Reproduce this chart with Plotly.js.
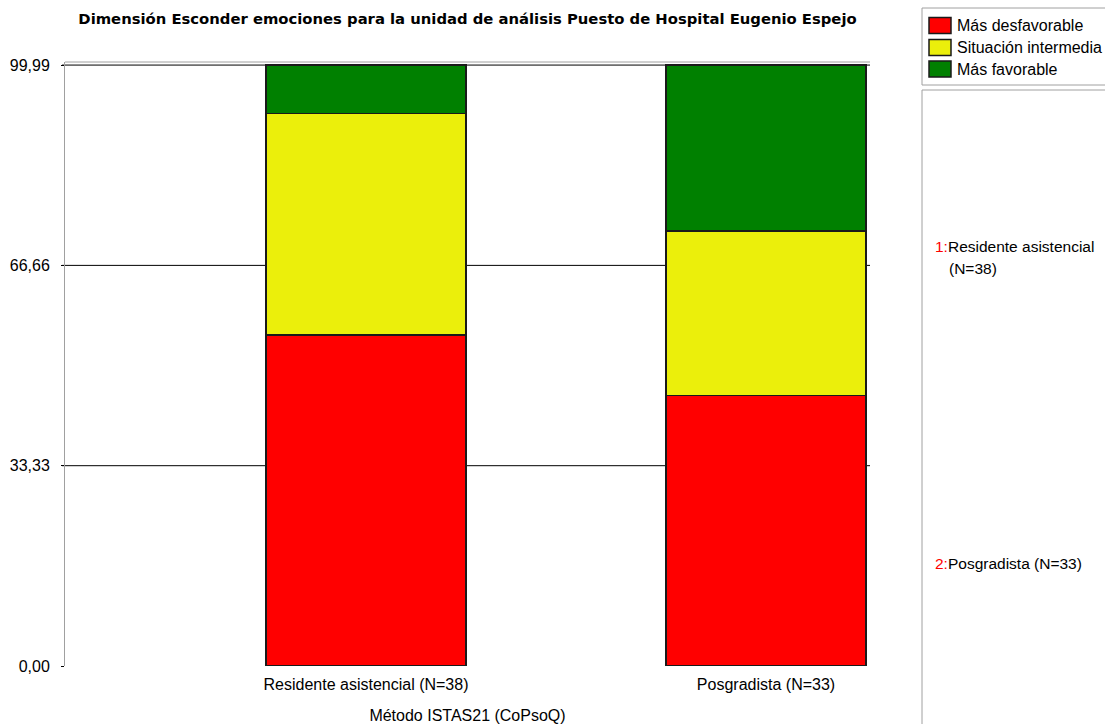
<!DOCTYPE html>
<html>
<head>
<meta charset="utf-8">
<script src="https://cdn.plot.ly/plotly-3.0.1.min.js"></script>
<style>
  html, body { margin: 0; padding: 0; background: #ffffff; }
  #chart { width: 1105px; height: 724px; }
</style>
</head>
<body>
<div id="chart"></div>
<script>
// Categories (groups of respondents) and stacked series, in percent
const categories = ['Residente asistencial (N=38)', 'Posgradista (N=33)'];
const seriesNames = ['Más desfavorable', 'Situación intermedia', 'Más favorable'];
const masDesfavorable = [55.1, 45.0];
const situacionIntermedia = [36.8, 27.4];
const masFavorable = [8.1, 27.6];
const seriesColors = ['#ff0000', '#ebef0b', '#008000'];

// Y axis ticks
const yTickVals = [0, 33.33, 66.66, 99.99];
const yTickText = ['0,00', '33,33', '66,66', '99,99'];

// Side panel text
const panelItems = [
  { num: '1:', first: 'Residente asistencial', second: '(N=38)' },
  { num: '2:', first: 'Posgradista (N=33)', second: '' }
];

const FONT = 'Liberation Sans, Arial, sans-serif';
const TITLE_FONT = 'DejaVu Sans, Verdana, sans-serif';
const W = 1105, H = 724;
const M = { l: 65, r: 235, t: 62, b: 58 };
const plotW = W - M.l - M.r, plotH = H - M.t - M.b;
// pixel -> paper coordinate helpers for decorations outside the plot area
const px = p => (p - M.l) / plotW;
const py = p => (H - M.b - p) / plotH;

const seriesValues = [masDesfavorable, situacionIntermedia, masFavorable];

const traces = seriesValues.map((vals, i) => ({
  type: 'bar',
  name: seriesNames[i],
  x: [0, 1],
  y: vals,
  width: 0.5,
  marker: { color: seriesColors[i], line: { color: '#1a1a1a', width: 1.5 } },
  showlegend: false,
  hoverinfo: 'skip'
}));

const shapes = [];
const annotations = [];

// horizontal grid lines (black), drawn under the bars
yTickVals.slice(1).forEach(v => {
  shapes.push({ type: 'line', xref: 'paper', yref: 'y', x0: px(62), x1: 1, y0: v, y1: v,
    line: { color: '#000000', width: 1 }, layer: 'below' });
});
// top frame line (grey)
shapes.push({ type: 'line', xref: 'paper', yref: 'paper', x0: 0, x1: 1, y0: 1, y1: 1,
  line: { color: '#a0a0a0', width: 1 } });

// legend box and side panel box
shapes.push({ type: 'rect', xref: 'paper', yref: 'paper', x0: px(922), x1: px(1110), y0: py(85), y1: py(8),
  line: { color: '#a0a0a0', width: 1 }, fillcolor: 'rgba(0,0,0,0)' });
shapes.push({ type: 'rect', xref: 'paper', yref: 'paper', x0: px(922), x1: px(1110), y0: py(735), y1: py(90),
  line: { color: '#a0a0a0', width: 1 }, fillcolor: 'rgba(0,0,0,0)' });

// legend entries
const legendY = [25.5, 47.5, 69];
seriesNames.forEach((name, i) => {
  shapes.push({ type: 'rect', xref: 'paper', yref: 'paper',
    x0: px(929), x1: px(951), y0: py(legendY[i] + 8), y1: py(legendY[i] - 8),
    fillcolor: seriesColors[i], line: { color: '#1a1a1a', width: 1.5 } });
  annotations.push({ xref: 'paper', yref: 'paper', x: px(955), y: py(legendY[i]),
    xanchor: 'left', yanchor: 'middle', showarrow: false, text: name,
    font: { family: FONT, size: 16, color: '#000000' } });
});

// side panel category list
const panelY = [247, 563];
panelItems.forEach((it, i) => {
  annotations.push({ xref: 'paper', yref: 'paper', x: px(933), y: py(panelY[i]),
    xanchor: 'left', yanchor: 'middle', showarrow: false,
    text: '<span style="color:#ff0000">' + it.num + '</span>' + it.first,
    font: { family: FONT, size: 15.5, color: '#000000' } });
  if (it.second) {
    annotations.push({ xref: 'paper', yref: 'paper', x: px(947), y: py(panelY[i] + 21),
      xanchor: 'left', yanchor: 'middle', showarrow: false, text: it.second,
      font: { family: FONT, size: 15.5, color: '#000000' } });
  }
});

const layout = {
  width: W, height: H,
  margin: M,
  paper_bgcolor: '#ffffff', plot_bgcolor: '#ffffff',
  barmode: 'stack',
  showlegend: false,
  title: {
    text: '<b>Dimensión Esconder emociones para la unidad de análisis Puesto de Hospital Eugenio Espejo</b>',
    font: { family: TITLE_FONT, size: 14.8, color: '#000000' },
    x: 0.5, xref: 'paper', y: 1 - 19 / H, yref: 'container', yanchor: 'middle'
  },
  xaxis: {
    range: [-0.7525, 1.26],
    tickvals: [0, 1], ticktext: categories,
    showgrid: false, zeroline: false, showline: false, ticks: '',
    tickfont: { family: FONT, size: 16, color: '#000000' },
    ticklabelstandoff: 7,
    title: { text: 'Método ISTAS21 (CoPsoQ)', font: { family: FONT, size: 16, color: '#000000' }, standoff: 18 },
    automargin: false, fixedrange: true
  },
  yaxis: {
    range: [0, 100.5],
    tickvals: yTickVals, ticktext: yTickText,
    showgrid: false, zeroline: false,
    showline: true, linecolor: '#a0a0a0', linewidth: 1,
    ticks: 'outside', ticklen: 3, tickcolor: '#000000',
    ticklabelstandoff: 8,
    tickfont: { family: FONT, size: 16, color: '#000000' },
    automargin: false, fixedrange: true
  },
  shapes: shapes,
  annotations: annotations
};

Plotly.newPlot('chart', traces, layout, { displayModeBar: false, staticPlot: true });
</script>
</body>
</html>
